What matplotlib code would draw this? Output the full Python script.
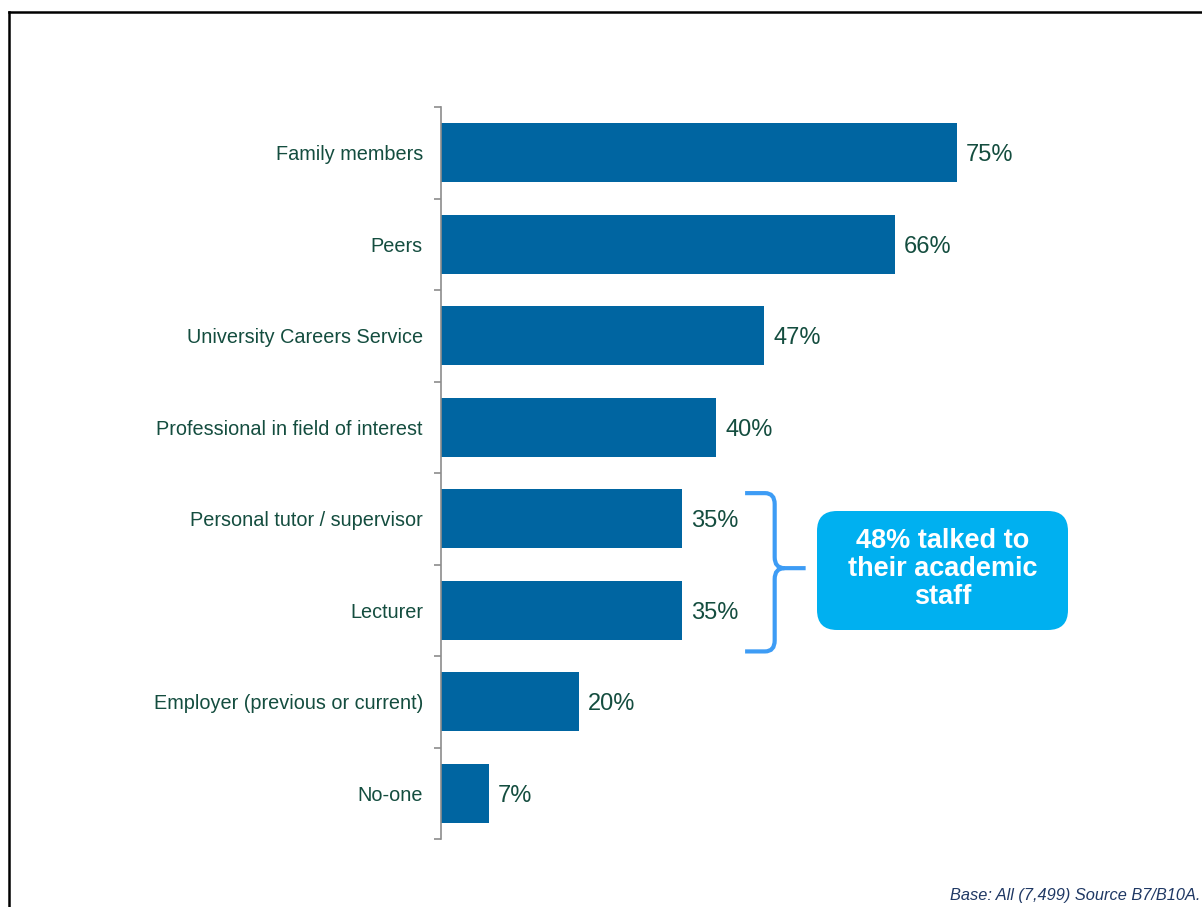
import matplotlib
matplotlib.use('Agg')
import matplotlib.pyplot as plt
from matplotlib.path import Path
from matplotlib.patches import PathPatch, FancyBboxPatch
from matplotlib.lines import Line2D

# Who students talked to about their career plans
categories = [
    'Family members',
    'Peers',
    'University Careers Service',
    'Professional in field of interest',
    'Personal tutor / supervisor',
    'Lecturer',
    'Employer (previous or current)',
    'No-one',
]
values = [75, 66, 47, 40, 35, 35, 20, 7]

callout_text = '48% talked to\ntheir academic\nstaff'
footnote = 'Base: All (7,499) Source B7/B10A.'

BAR_COLOR = '#0065a1'
TEXT_COLOR = '#144d3f'
BRACE_COLOR = '#3d9cf5'
CALLOUT_COLOR = '#00b0f0'

plt.rcParams['font.family'] = ['Liberation Sans', 'DejaVu Sans']

fig = plt.figure(figsize=(12.02, 9.07), dpi=100)
ax = fig.add_axes([441 / 1202, 68 / 907, 688 / 1202, 732 / 907])

y_pos = list(range(len(categories)))
ax.barh(y_pos, values, height=0.65, color=BAR_COLOR)

ax.set_xlim(0, 100)
ax.set_ylim(len(categories) - 0.5, -0.5)

for y, v in zip(y_pos, values):
    ax.text(v + 1.3, y, f'{v}%', va='center_baseline', ha='left',
            fontsize=17, color=TEXT_COLOR)

# category labels, ticks only at row boundaries
ax.set_yticks(y_pos)
ax.set_yticklabels(categories, fontsize=14.3, color=TEXT_COLOR,
                   va='center_baseline')
ax.tick_params(axis='y', which='major', length=0, pad=13)
ax.set_yticks([i - 0.5 for i in range(len(categories) + 1)], minor=True)
ax.tick_params(axis='y', which='minor', length=5, width=1.2,
               color='#8c8c8c', direction='out')
ax.set_xticks([])
for side in ['top', 'right', 'bottom']:
    ax.spines[side].set_visible(False)
ax.spines['left'].set_color('#8c8c8c')
ax.spines['left'].set_linewidth(1.2)

# curly brace grouping the academic staff rows
x0, x1, x2 = 44.2, 48.5, 53.0
yt, ym, yb = 3.72, 4.54, 5.45
rx, ry = 1.4, 0.12
verts = [
    (x0, yt), (x1 - rx, yt),
    (x1, yt), (x1, yt + ry),
    (x1, ym - ry),
    (x1, ym), (x1 + rx, ym),
    (x2, ym),
    (x1 + rx, ym),
    (x1, ym), (x1, ym + ry),
    (x1, yb - ry),
    (x1, yb), (x1 - rx, yb),
    (x0, yb),
]
codes = [
    Path.MOVETO, Path.LINETO,
    Path.CURVE3, Path.CURVE3,
    Path.LINETO,
    Path.CURVE3, Path.CURVE3,
    Path.LINETO,
    Path.MOVETO,
    Path.CURVE3, Path.CURVE3,
    Path.LINETO,
    Path.CURVE3, Path.CURVE3,
    Path.LINETO,
]
ax.add_patch(PathPatch(Path(verts, codes), facecolor='none',
                       edgecolor=BRACE_COLOR, linewidth=3,
                       capstyle='butt', clip_on=False))

# callout box (inches from the lower-left corner)
box = FancyBboxPatch((8.17, 2.77), 2.51, 1.19,
                     boxstyle='round,pad=0,rounding_size=0.2',
                     transform=fig.dpi_scale_trans,
                     facecolor=CALLOUT_COLOR, edgecolor='none')
fig.patches.append(box)
fig.text(9.425 / 12.02, 3.38 / 9.07, callout_text, ha='center', va='center',
         fontsize=19.5, fontweight='bold', color='white', linespacing=1.08)

fig.text(1200 / 1202, 4 / 907, footnote, ha='right', va='bottom',
         fontsize=11.8, style='italic', color='#1f3864')

# slide frame on left and top edges
fig.add_artist(Line2D([9 / 1202, 9 / 1202], [0, 1 - 12 / 907],
                      color='black', linewidth=1.8))
fig.add_artist(Line2D([9 / 1202, 1], [1 - 12 / 907, 1 - 12 / 907],
                      color='black', linewidth=1.8))

fig.savefig('out.png', dpi=100, facecolor='white')
